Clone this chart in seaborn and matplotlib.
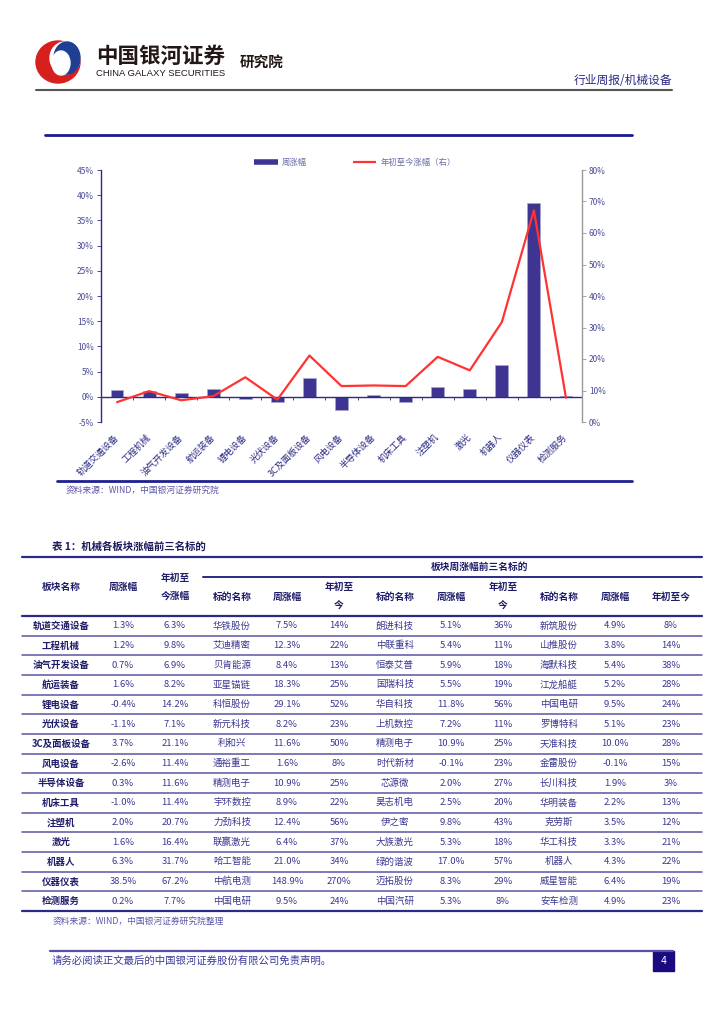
import numpy as np
import pandas as pd
import matplotlib
matplotlib.use("Agg")
import matplotlib.pyplot as plt
import seaborn as sns
from matplotlib.patches import Ellipse, Rectangle
from matplotlib.lines import Line2D

# 数据
sectors = ['轨道交通设备', '工程机械', '油气开发设备', '航运装备', '锂电设备', '光伏设备',
           '3C及面板设备', '风电设备', '半导体设备', '机床工具', '注塑机', '激光',
           '机器人', '仪器仪表', '检测服务']
week = [1.3, 1.2, 0.7, 1.6, -0.4, -1.1, 3.7, -2.6, 0.3, -1.0, 2.0, 1.6, 6.3, 38.5, 0.2]
ytd = [6.3, 9.8, 6.9, 8.2, 14.2, 7.1, 21.1, 11.4, 11.6, 11.4, 20.7, 16.4, 31.7, 67.2, 7.7]

top1_name = ['华铁股份', '艾迪精密', '贝肯能源', '亚星锚链', '科恒股份', '新元科技', '利和兴',
             '通裕重工', '精测电子', '宇环数控', '力劲科技', '联赢激光', '哈工智能', '中航电测', '中国电研']
top1_week = ['7.5%', '12.3%', '8.4%', '18.3%', '29.1%', '8.2%', '11.6%', '1.6%', '10.9%',
             '8.9%', '12.4%', '6.4%', '21.0%', '148.9%', '9.5%']
top1_ytd = ['14%', '22%', '13%', '25%', '52%', '23%', '50%', '8%', '25%', '22%', '56%',
            '37%', '34%', '270%', '24%']
top2_name = ['朗进科技', '中联重科', '恒泰艾普', '国瑞科技', '华自科技', '上机数控', '精测电子',
             '时代新材', '芯源微', '昊志机电', '伊之密', '大族激光', '绿的谐波', '迈拓股份', '中国汽研']
top2_week = ['5.1%', '5.4%', '5.9%', '5.5%', '11.8%', '7.2%', '10.9%', '-0.1%', '2.0%',
             '2.5%', '9.8%', '5.3%', '17.0%', '8.3%', '5.3%']
top2_ytd = ['36%', '11%', '18%', '19%', '56%', '11%', '25%', '23%', '27%', '20%', '43%',
            '18%', '57%', '29%', '8%']
top3_name = ['新筑股份', '山推股份', '海默科技', '江龙船艇', '中国电研', '罗博特科', '天准科技',
             '金雷股份', '长川科技', '华明装备', '克劳斯', '华工科技', '机器人', '威星智能', '安车检测']
top3_week = ['4.9%', '3.8%', '5.4%', '5.2%', '9.5%', '5.1%', '10.0%', '-0.1%', '1.9%',
             '2.2%', '3.5%', '3.3%', '4.3%', '6.4%', '4.9%']
top3_ytd = ['8%', '14%', '38%', '28%', '24%', '23%', '28%', '15%', '3%', '13%', '12%',
            '21%', '22%', '19%', '23%']

sns.set_theme(style='white')
plt.rcParams['font.family'] = ['Noto Sans CJK SC', 'DejaVu Sans']
plt.rcParams['axes.unicode_minus'] = False

NAVY = '#2B2A85'
BAR = '#3D3591'
RED = '#FF3333'
TXT = '#3A3890'

fig = plt.figure(figsize=(7.24, 10.24), dpi=100)

# 背景层：像素坐标
bg = fig.add_axes([0, 0, 1, 1])
bg.set_xlim(0, 724)
bg.set_ylim(1024, 0)
bg.axis('off')

# 页眉
bg.add_patch(Ellipse((58, 62), 44, 42, color='#D7201E'))
bg.add_patch(Ellipse((65, 58), 30, 32, color='white'))
bg.add_patch(Ellipse((67, 58), 26, 32, color='#1F3F95'))
bg.add_patch(Ellipse((61, 63), 18, 24, color='white'))
bg.text(96, 56, '中国银河证券', fontsize=15.5, fontweight='bold', color='#231815', va='center')
bg.text(96, 73, 'CHINA GALAXY SECURITIES', fontsize=6.8, color='#231815', va='center',
        family=['Liberation Sans', 'DejaVu Sans'])
bg.text(240, 62, '研究院', fontsize=10.5, fontweight='bold', color='#231815', va='center')
bg.text(672, 81, '行业周报/机械设备', fontsize=8.5, color=NAVY, ha='right', va='center')
bg.plot([36, 672], [90, 90], color='#555555', lw=1.5)
bg.plot([45, 632], [135, 135], color='#1A1A8C', lw=2)

# 图表
df = pd.DataFrame({'板块': sectors, '周涨幅': week, '年初至今': ytd})
ax = fig.add_axes([101 / 724, 1 - 422 / 1024, 481 / 724, 252 / 1024])
sns.barplot(data=df, x='板块', y='周涨幅', ax=ax, color=BAR, saturation=1, width=0.4,
            edgecolor='#A9A6D2', linewidth=0.5)
ax.set_xlim(-0.5, len(sectors) - 0.5)
ax.set_ylim(-5, 45)
ax.set_yticks(np.arange(-5, 50, 5))
ax.set_yticklabels([f'{v}%' for v in range(-5, 50, 5)])
ax.axhline(0, color=NAVY, lw=1)
ax.vlines(np.arange(0.5, len(sectors) - 0.5, 1), -0.6, 0, color=NAVY, lw=0.6)
ax.set_xlabel('')
ax.set_ylabel('')
ax.set_xticks(range(len(sectors)))
ax.set_xticklabels(sectors, rotation=45, ha='right', va='center', rotation_mode='anchor',
                   fontsize=6.5, color=NAVY)
ax.tick_params(axis='x', length=0, pad=10)
ax.tick_params(axis='y', direction='out', length=3, width=0.6, color=NAVY,
               labelcolor='#4A4A9A', labelsize=6, pad=2)
for s in ['top', 'bottom', 'right']:
    ax.spines[s].set_visible(False)
ax.spines['left'].set_color(NAVY)
ax.spines['left'].set_linewidth(1)
ax.patch.set_alpha(0)

ax2 = ax.twinx()
sns.lineplot(x=np.arange(len(sectors)), y=df['年初至今'], ax=ax2, color=RED, lw=1.6)
ax2.set_ylim(0, 80)
ax2.set_yticks(np.arange(0, 90, 10))
ax2.set_yticklabels([f'{v}%' for v in range(0, 90, 10)])
ax2.set_xlim(-0.5, len(sectors) - 0.5)
ax2.set_ylabel('')
ax2.tick_params(axis='y', direction='out', length=3, width=0.6, color='#999999',
                labelcolor='#4A4A9A', labelsize=6, pad=2)
for s in ['top', 'bottom', 'left']:
    ax2.spines[s].set_visible(False)
ax2.spines['right'].set_color('#999999')
ax2.spines['right'].set_linewidth(1)

handles = [Line2D([], [], color=BAR, lw=4, solid_capstyle='butt'),
           Line2D([], [], color=RED, lw=1.6, solid_capstyle='butt')]
fig.legend(handles, ['周涨幅', '年初至今涨幅（右）'], loc='center', ncol=2,
           bbox_to_anchor=(355 / 724, 1 - 162 / 1024), frameon=False, fontsize=6,
           labelcolor='#6A6AAA', handlelength=2.8, handletextpad=0.5, columnspacing=5.5)

bg.plot([57, 632], [481, 481], color='#1F1F8F', lw=2)
bg.text(66, 490, '资料来源：WIND，中国银河证券研究院', fontsize=6.3, color='#5A58A8', va='center')

# 表格
bg.text(52, 547, '表 1：机械各板块涨幅前三名标的', fontsize=7.5, fontweight='bold',
        color='#1A1A5E', va='center')
x0, x1 = 22, 702
bg.plot([x0, x1], [557, 557], color=NAVY, lw=1.6)
bg.plot([203, x1], [577, 577], color=NAVY, lw=1.4)
bg.text(480, 567, '板块周涨幅前三名标的', fontsize=7, fontweight='bold', color='#1F1D6B',
        ha='center', va='center')

cols = [61, 123, 175, 232, 287, 339, 395, 451, 503, 559, 615, 671]
hdr_kw = dict(fontsize=7, fontweight='bold', color='#1F1D6B', ha='center', va='center')
bg.text(cols[0], 587, '板块名称', **hdr_kw)
bg.text(cols[1], 587, '周涨幅', **hdr_kw)
bg.text(cols[2], 578, '年初至', **hdr_kw)
bg.text(cols[2], 596, '今涨幅', **hdr_kw)
for k in range(3):
    c = 3 + 3 * k
    bg.text(cols[c], 597, '标的名称', **hdr_kw)
    bg.text(cols[c + 1], 597, '周涨幅', **hdr_kw)
    if k < 2:
        bg.text(cols[c + 2], 587, '年初至', **hdr_kw)
        bg.text(cols[c + 2], 606, '今', **hdr_kw)
    else:
        bg.text(cols[c + 2], 597, '年初至今', **hdr_kw)

y_top = 616
row_h = (911 - 616) / len(sectors)
bg.plot([x0, x1], [y_top, y_top], color=NAVY, lw=1.6)
for i in range(len(sectors)):
    yc = y_top + (i + 0.5) * row_h
    vals = [sectors[i], f'{week[i]:.1f}%', f'{ytd[i]:.1f}%',
            top1_name[i], top1_week[i], top1_ytd[i],
            top2_name[i], top2_week[i], top2_ytd[i],
            top3_name[i], top3_week[i], top3_ytd[i]]
    for j, v in enumerate(vals):
        bg.text(cols[j], yc, v, fontsize=6.8, ha='center', va='center',
                color='#1F1D6B' if j == 0 else TXT,
                fontweight='bold' if j == 0 else 'normal')
    yb = y_top + (i + 1) * row_h
    last = i == len(sectors) - 1
    bg.plot([x0, x1], [yb, yb], color=NAVY if last else '#5A55A3', lw=1.6 if last else 1.1)

bg.text(53, 921, '资料来源：WIND，中国银河证券研究院整理', fontsize=6.3, color='#5A58A8', va='center')

# 页脚
bg.plot([50, 673], [951, 951], color='#5A4FA8', lw=1.6)
bg.text(52, 961, '请务必阅读正文最后的中国银河证券股份有限公司免责声明。', fontsize=7.5,
        color='#3B3A9A', va='center')
bg.add_patch(Rectangle((653, 951), 21, 20, color='#1A0A80'))
bg.text(663.5, 961, '4', fontsize=7, color='white', ha='center', va='center',
        family=['DejaVu Sans'])

fig.savefig('out.png', dpi=100)
